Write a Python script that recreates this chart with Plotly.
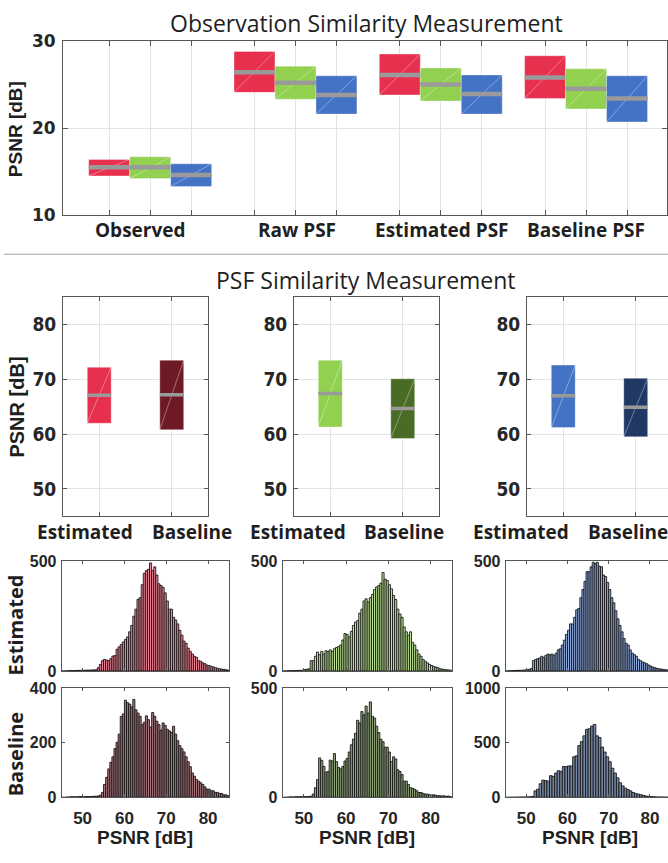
import numpy as np
import plotly.graph_objects as go

W, H = 668, 863

# ---------------- data ----------------
obs_groups = ["Observed", "Raw PSF", "Estimated PSF", "Baseline PSF"]
obs_red_q1 = [14.5, 24.1, 23.8, 23.4]
obs_red_med = [15.5, 26.4, 26.1, 25.8]
obs_red_q3 = [16.4, 28.8, 28.5, 28.3]
obs_green_q1 = [14.2, 23.3, 23.1, 22.2]
obs_green_med = [15.5, 25.2, 25.0, 24.5]
obs_green_q3 = [16.7, 27.1, 26.9, 26.8]
obs_blue_q1 = [13.3, 21.6, 21.6, 20.7]
obs_blue_med = [14.6, 23.8, 23.9, 23.4]
obs_blue_q3 = [15.9, 26.0, 26.1, 26.0]

psf_methods = ["Estimated", "Baseline"]
psf_red_q1 = [62.0, 60.8]
psf_red_med = [67.1, 67.2]
psf_red_q3 = [72.2, 73.5]
psf_green_q1 = [61.3, 59.2]
psf_green_med = [67.4, 64.7]
psf_green_q3 = [73.5, 70.1]
psf_blue_q1 = [61.2, 59.5]
psf_blue_med = [67.0, 64.9]
psf_blue_q3 = [72.6, 70.2]

# histogram counts, bins of 0.5 dB from 45 to 85
hist_edges_half = np.arange(45.0, 85.001, 0.5)
hist_red_est = [0, 0, 1, 1, 2, 2, 2, 3, 3, 3,
                3, 4, 4, 4, 5, 5, 6, 15, 30, 47,
                53, 50, 47, 56, 68, 70, 99, 110, 121, 132,
                143, 155, 178, 207, 249, 281, 325, 333, 392, 444,
                456, 462, 491, 456, 473, 436, 396, 388, 380, 355,
                318, 281, 281, 244, 232, 214, 185, 163, 136, 126,
                104, 89, 77, 67, 62, 47, 44, 37, 33, 27,
                25, 21, 19, 15, 13, 10, 9, 7, 6, 4]
hist_red_base = [0, 0, 1, 1, 2, 2, 2, 2, 3, 3,
                 2, 3, 3, 3, 3, 4, 4, 5, 8, 18,
                 47, 73, 104, 128, 148, 178, 201, 231, 296, 305,
                 355, 346, 341, 331, 358, 320, 308, 296, 266, 274,
                 298, 284, 257, 310, 296, 278, 266, 246, 272, 263,
                 249, 243, 237, 260, 231, 207, 189, 178, 166, 148,
                 130, 112, 89, 77, 65, 59, 53, 47, 38, 30,
                 30, 24, 24, 18, 18, 14, 14, 9, 9, 6]
hist_green_est = [0, 0, 1, 1, 2, 2, 2, 3, 3, 4,
                  7, 8, 10, 47, 47, 67, 86, 74, 89, 77,
                  92, 89, 96, 89, 101, 107, 111, 118, 141, 170,
                  166, 155, 180, 207, 222, 229, 263, 281, 318, 328,
                  314, 333, 348, 370, 382, 388, 399, 447, 417, 411,
                  392, 373, 343, 325, 281, 259, 244, 200, 178, 163,
                  178, 130, 118, 96, 77, 67, 52, 44, 37, 30,
                  25, 21, 18, 15, 10, 9, 7, 6, 5, 4]
hist_green_base = [0, 0, 1, 2, 2, 2, 3, 3, 3, 3,
                   3, 3, 4, 5, 15, 44, 81, 180, 169, 141,
                   115, 118, 170, 166, 200, 163, 136, 130, 141, 166,
                   178, 207, 240, 266, 293, 352, 340, 392, 377, 417,
                   385, 436, 370, 362, 325, 296, 266, 254, 229, 229,
                   207, 163, 185, 175, 126, 118, 104, 74, 74, 59,
                   44, 41, 37, 30, 22, 22, 18, 15, 15, 12,
                   10, 12, 9, 7, 7, 6, 7, 4, 6, 3]
hist_blue_est = [0, 1, 1, 2, 2, 3, 3, 3, 4, 5,
                 6, 8, 12, 47, 52, 56, 59, 67, 62, 71,
                 77, 74, 77, 71, 81, 96, 101, 118, 140, 166,
                 185, 214, 214, 244, 278, 284, 333, 370, 407, 451,
                 451, 473, 494, 488, 494, 476, 473, 436, 429, 402,
                 370, 333, 310, 274, 237, 207, 178, 148, 126, 118,
                 96, 81, 74, 67, 52, 47, 41, 37, 33, 27,
                 22, 18, 15, 12, 10, 9, 7, 6, 5, 4]
# blue baseline uses wider bins (0.625 dB) from 45 to 85
hist_edges_blue_base = np.arange(45.0, 85.001, 0.625)
hist_blue_base = [0, 0, 1, 1, 2, 2, 3, 3, 4, 5, 8,
                  59, 74, 124, 157, 154, 148, 198, 192, 222, 243,
                  237, 281, 281, 287, 287, 370, 379, 473, 509, 562,
                  621, 627, 651, 666, 562, 547, 459, 414, 370, 325,
                  266, 222, 178, 133, 104, 83, 71, 59, 44, 36,
                  30, 24, 18, 12, 9,
                  7, 5, 4, 3, 3, 2, 2, 1]

hist_x_ticks = [50, 60, 70, 80]
hist_row_labels = ["Estimated", "Baseline"]
psnr_label = "PSNR [dB]"
title_obs = "Observation Similarity Measurement"
title_psf = "PSF Similarity Measurement"

# ---------------- styles ----------------
RED, GREEN, BLUE = "#E6304E", "#92D050", "#4472C4"
DRED, DGREEN, DBLUE = "#6E1A26", "#4A6B26", "#203864"
MED_COLOR = "#9A9A9A"
AXLINE = "#555555"
GRID = "#E3E3E3"
TXT = "#1f1f1f"


def blend(hexcol, alpha=0.6):
    h = hexcol.lstrip("#")
    r, g, b = (int(h[i:i + 2], 16) for i in (0, 2, 4))
    f = lambda c: int(round(c * alpha + 255 * (1 - alpha)))
    return "rgb(%d,%d,%d)" % (f(r), f(g), f(b))


def dom_x(a, b):
    return [a / W, b / W]


def dom_y(top, bottom):
    return [1 - bottom / H, 1 - top / H]


TITLE_FONT = dict(family="Open Sans, Noto Sans, sans-serif", size=23, color=TXT)
LABEL_FONT = dict(family="Open Sans, Noto Sans, sans-serif", size=19, color=TXT, weight="bold")
TOP_TICK_FONT = dict(family="DejaVu Sans, sans-serif", size=17, color="#262626", weight="bold")
MID_TICK_FONT = dict(family="Liberation Sans Narrow, DejaVu Sans Condensed, sans-serif", size=19,
                     color="#262626", weight="bold")
HIST_TICK_FONT = dict(family="Liberation Sans, Arial, sans-serif", size=16, color="#262626", weight="bold")
AX_TITLE_FONT = dict(family="Liberation Sans, Arial, sans-serif", size=19, color=TXT, weight="bold")

fig = go.Figure()


def add_boxes(xs, q1, med, q3, width, colors, xa, ya, medw):
    q1 = np.array(q1, float)
    q3 = np.array(q3, float)
    fig.add_trace(go.Bar(x=xs, y=q3 - q1, base=q1, width=width,
                         marker=dict(color=colors, line=dict(color="rgba(255,255,255,0.35)", width=1)),
                         xaxis=xa, yaxis=ya, showlegend=False, hoverinfo="skip"))
    mx, my, dx, dy = [], [], [], []
    for x, a, m, b in zip(xs, q1, med, q3):
        mx += [x - width / 2, x + width / 2, None]
        my += [m, m, None]
        dx += [x - width / 2, x + width / 2, None]
        dy += [a, b, None]
    fig.add_trace(go.Scatter(x=dx, y=dy, mode="lines", line=dict(color="rgba(255,255,255,0.45)", width=0.8),
                             xaxis=xa, yaxis=ya, showlegend=False, hoverinfo="skip"))
    fig.add_trace(go.Scatter(x=mx, y=my, mode="lines", line=dict(color=MED_COLOR, width=medw),
                             xaxis=xa, yaxis=ya, showlegend=False, hoverinfo="skip"))


# ---------- top: observation similarity ----------
off = 0.282
groups = np.arange(1, len(obs_groups) + 1)
top_series = [(obs_red_q1, obs_red_med, obs_red_q3, RED),
              (obs_green_q1, obs_green_med, obs_green_q3, GREEN),
              (obs_blue_q1, obs_blue_med, obs_blue_q3, BLUE)]
top_ticks = []
for ci, (a, m, b, col) in enumerate(top_series):
    xs = groups + (ci - 1) * off
    top_ticks += list(xs)
    add_boxes(xs, a, m, b, off, [col] * len(xs), "x", "y", 4.5)

# ---------- middle: PSF similarity ----------
mid_series = [(psf_red_q1, psf_red_med, psf_red_q3, [RED, DRED]),
              (psf_green_q1, psf_green_med, psf_green_q3, [GREEN, DGREEN]),
              (psf_blue_q1, psf_blue_med, psf_blue_q3, [BLUE, DBLUE])]
mpos = np.arange(1, len(psf_methods) + 1)
for k, (a, m, b, cols) in enumerate(mid_series):
    add_boxes(mpos, a, m, b, 0.33, cols, "x%d" % (k + 2), "y%d" % (k + 2), 3.5)

# ---------- histograms ----------
hists = [(hist_red_est, hist_edges_half, RED), (hist_green_est, hist_edges_half, GREEN),
         (hist_blue_est, hist_edges_half, BLUE),
         (hist_red_base, hist_edges_half, DRED), (hist_green_base, hist_edges_half, DGREEN),
         (hist_blue_base, hist_edges_blue_base, DBLUE)]
for i, (counts, edges, col) in enumerate(hists):
    centers = (edges[:-1] + edges[1:]) / 2
    bw = edges[1] - edges[0]
    fig.add_trace(go.Bar(x=centers, y=counts, width=bw,
                         marker=dict(color=blend(col), line=dict(color="#111111", width=0.85)),
                         xaxis="x%d" % (i + 5), yaxis="y%d" % (i + 5), showlegend=False, hoverinfo="skip"))

# ---------- layout ----------
layout = dict(width=W, height=H, margin=dict(l=0, r=0, t=0, b=0),
              paper_bgcolor="white", plot_bgcolor="white", barmode="overlay",
              showlegend=False)


def axis_common(**kw):
    d = dict(showline=True, linecolor=AXLINE, linewidth=1, mirror="ticks", ticks="inside",
             tickcolor=AXLINE, ticklen=4, zeroline=False, fixedrange=True)
    d.update(kw)
    return d


layout["xaxis"] = axis_common(domain=dom_x(63, 667), anchor="y", range=[0.40, 4.557],
                              tickvals=top_ticks, showticklabels=False, showgrid=True,
                              gridcolor=GRID, ticklen=5)
layout["yaxis"] = axis_common(domain=dom_y(31.7, 210), anchor="x", range=[10, 30],
                              tickvals=[10, 20, 30], showgrid=True, gridcolor=GRID,
                              tickfont=TOP_TICK_FONT, ticklen=5, ticklabelstandoff=3)

mid_x = [(63, 208, 2.5), (294, 439, 2.5), (527, 668, 2.445)]
for k, (a, b, rmax) in enumerate(mid_x):
    n = k + 2
    layout["xaxis%d" % n] = axis_common(domain=dom_x(a, b), anchor="y%d" % n, range=[0.5, rmax],
                                        tickvals=list(mpos), showticklabels=False, showgrid=True,
                                        gridcolor=GRID)
    layout["yaxis%d" % n] = axis_common(domain=dom_y(294, 518.3), anchor="x%d" % n, range=[45, 85],
                                        tickvals=[50, 60, 70, 80], showgrid=True, gridcolor=GRID,
                                        tickfont=MID_TICK_FONT, ticklabelstandoff=2,
                                        mirror=("ticks" if k < 2 else False))

hist_cols = [(61.7, 229, 85), (282.7, 451.7, 85), (505.7, 668, 84.4)]
hist_rows = [(564, 676.7), (694, 806)]
hist_yticks = [[0, 500], [0, 500], [0, 500], [0, 200, 400], [0, 500], [0, 500, 1000]]
hist_yrange = [500, 500, 500, 400, 500, 1000]
for i in range(6):
    r, c = divmod(i, 3)
    n = i + 5
    a, b, xmax = hist_cols[c]
    t, btm = hist_rows[r]
    layout["xaxis%d" % n] = axis_common(domain=dom_x(a, b), anchor="y%d" % n, range=[45, xmax],
                                        tickvals=hist_x_ticks, showticklabels=(r == 1),
                                        tickfont=dict(HIST_TICK_FONT, size=17), showgrid=False, ticklen=3,
                                        ticklabelstandoff=5)
    layout["yaxis%d" % n] = axis_common(domain=dom_y(t, btm), anchor="x%d" % n,
                                        range=[0, hist_yrange[i]], tickvals=hist_yticks[i],
                                        tickfont=HIST_TICK_FONT, showgrid=False, ticklen=3,
                                        ticklabelstandoff=1,
                                        mirror=("ticks" if c < 2 else False))

ann = []
# titles
ann.append(dict(text=title_obs, x=366 / W, y=1 - 13 / H, xref="paper", yref="paper",
                showarrow=False, font=TITLE_FONT, xanchor="center", yanchor="middle"))
ann.append(dict(text=title_psf, x=366 / W, y=1 - 276 / H, xref="paper", yref="paper",
                showarrow=False, font=TITLE_FONT, xanchor="center", yanchor="middle"))
# top category labels
top_label_shift = [-10, 2, 1, 0]
for g, lab, sh in zip(groups, obs_groups, top_label_shift):
    ann.append(dict(text=lab, x=g, y=1 - 225 / H, xref="x", yref="paper", xshift=sh,
                    showarrow=False, font=LABEL_FONT, xanchor="center", yanchor="middle"))
# middle category labels
mid_label_px = [[85, 192], [298, 404], [521, 628]]
for k in range(3):
    for lab, px in zip(psf_methods, mid_label_px[k]):
        ann.append(dict(text=lab, x=px / W, y=1 - 534 / H, xref="paper", yref="paper",
                        showarrow=False, font=LABEL_FONT, xanchor="center", yanchor="middle"))
# y-axis titles
ann.append(dict(text=psnr_label, x=15 / W, y=1 - 122 / H, xref="paper", yref="paper", textangle=-90,
                showarrow=False, font=AX_TITLE_FONT, xanchor="center", yanchor="middle"))
ann.append(dict(text=psnr_label, x=17 / W, y=1 - 407 / H, xref="paper", yref="paper", textangle=-90,
                showarrow=False, font=dict(AX_TITLE_FONT, size=20), xanchor="center", yanchor="middle"))
# histogram row labels
for lab, yc in zip(hist_row_labels, [630, 762]):
    ann.append(dict(text=lab, x=15 / W, y=1 - yc / H, xref="paper", yref="paper", textangle=-90,
                    showarrow=False, font=dict(LABEL_FONT, size=20), xanchor="center", yanchor="middle"))
# histogram x titles
for xc in [145, 367, 590]:
    ann.append(dict(text=psnr_label, x=xc / W, y=1 - 847 / H, xref="paper", yref="paper",
                    showarrow=False, font=AX_TITLE_FONT, xanchor="center", yanchor="middle"))
layout["annotations"] = ann

# separator line
layout["shapes"] = [dict(type="line", xref="paper", yref="paper", x0=4 / W, x1=1,
                         y0=1 - 250 / H, y1=1 - 250 / H, line=dict(color="#A0A0A0", width=1))]

fig.update_layout(**layout)
fig.write_html("out.html", config={"displayModeBar": False, "staticPlot": True},
               post_script="document.documentElement.style.margin='0';document.body.style.margin='0';"
                           "document.body.style.padding='0';document.body.style.overflow='hidden';")
